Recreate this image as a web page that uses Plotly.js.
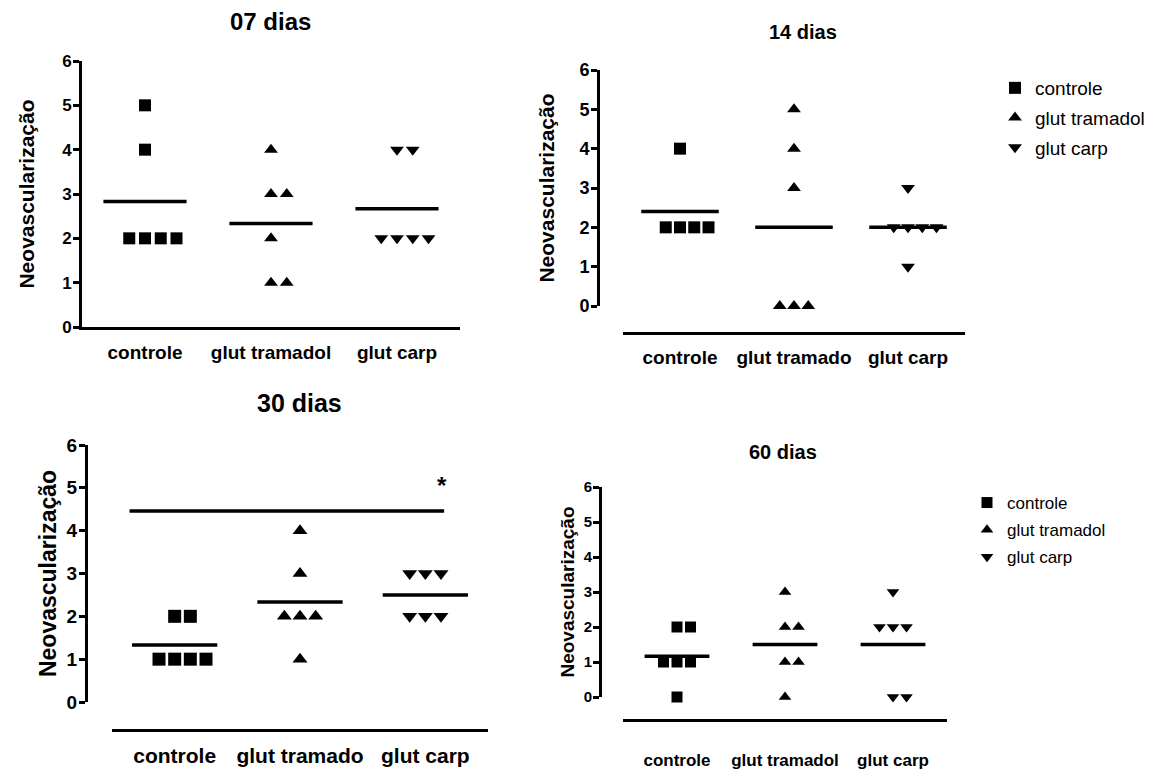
<!DOCTYPE html>
<html>
<head>
<meta charset="utf-8">
<script src="https://cdn.plot.ly/plotly-3.0.1.min.js"></script>
<style>html,body{margin:0;padding:0;background:#fff;}#chart{width:1157px;height:769px;}</style>
</head>
<body>
<div id="chart"></div>
<script>
// ---------------- data ----------------
const categories = ['controle', 'glut tramadol', 'glut carp'];
const ticksTruncated = ['controle', 'glut tramado', 'glut carp'];
const yTicks = [0, 1, 2, 3, 4, 5, 6];
const panelTitles = ['07 dias', '14 dias', '30 dias', '60 dias'];
const yTitle = 'Neovascularização';

const d07_controle = [5, 4, 2, 2, 2, 2];
const d07_tramadol = [4, 3, 3, 2, 1, 1];
const d07_carp     = [4, 4, 2, 2, 2, 2];

const d14_controle = [4, 2, 2, 2, 2];
const d14_tramadol = [5, 4, 3, 0, 0, 0];
const d14_carp     = [3, 2, 2, 2, 2, 1];

const d30_controle = [2, 2, 1, 1, 1, 1];
const d30_tramadol = [4, 3, 2, 2, 2, 1];
const d30_carp     = [3, 3, 3, 2, 2, 2];

const d60_controle = [2, 2, 1, 1, 1, 0];
const d60_tramadol = [3, 2, 2, 1, 1, 0];
const d60_carp     = [3, 2, 2, 2, 0, 0];

const sigLabel = '*';   // 30 dias: controle vs glut carp
const sigValue = 4.46;  // height of the comparison bar

// ---------------- helpers ----------------
const W = 1157, H = 769;
const px = v => v / W;
const py = v => 1 - v / H;
const FONT = 'Liberation Sans, Arial, Helvetica, sans-serif';
const symbols = ['square', 'triangle-up', 'triangle-down'];

function spread(values, center, slot) {
  // column-scatter layout: identical values are placed side by side
  const counts = {}, seen = {};
  values.forEach(v => counts[v] = (counts[v] || 0) + 1);
  return values.map(v => {
    const n = counts[v];
    const k = (seen[v] = (seen[v] === undefined ? 0 : seen[v] + 1));
    return center + (k - Math.floor((n - 1) / 2)) * slot;
  });
}
const mean = a => a.reduce((s, v) => s + v, 0) / a.length;

const panels = [
  {groups: [d07_controle, d07_tramadol, d07_carp], xa: 'x',  ya: 'y',  size: [12, 12, 12], half: 0.33, legend: null},
  {groups: [d14_controle, d14_tramadol, d14_carp], xa: 'x2', ya: 'y2', size: [12, 12, 12], half: 0.34, legend: 'legend'},
  {groups: [d30_controle, d30_tramadol, d30_carp], xa: 'x3', ya: 'y3', size: [13, 13, 13], half: 0.34, legend: null},
  {groups: [d60_controle, d60_tramadol, d60_carp], xa: 'x4', ya: 'y4', size: [11, 11, 11], half: 0.30, legend: 'legend2'}
];

const traces = [];
panels.forEach((p, pi) => {
  p.groups.forEach((vals, gi) => {
    traces.push({
      type: 'scatter', mode: 'markers',
      x: spread(vals, gi + 1, 0.125), y: vals,
      xaxis: p.xa, yaxis: p.ya,
      name: categories[gi],
      marker: {symbol: symbols[gi], size: p.size[gi], color: '#000'},
      cliponaxis: false,
      showlegend: !!p.legend,
      legend: p.legend || 'legend',
      legendgroup: 'g' + gi,
      hoverinfo: 'y'
    });
  });
  p.groups.forEach((vals, gi) => {
    const m = mean(vals);
    traces.push({
      type: 'scatter', mode: 'lines',
      x: [gi + 1 - p.half, gi + 1 + p.half], y: [m, m],
      xaxis: p.xa, yaxis: p.ya,
      line: {color: '#000', width: 3.5},
      cliponaxis: false, showlegend: false, hoverinfo: 'skip'
    });
  });
});
// significance bar (30 dias)
traces.push({
  type: 'scatter', mode: 'lines',
  x: [0.64, 3.15], y: [sigValue, sigValue],
  xaxis: 'x3', yaxis: 'y3',
  line: {color: '#000', width: 3.5},
  cliponaxis: false, showlegend: false, hoverinfo: 'skip'
});

function xAxis(domain, anchor, position, ticktext, fsize, standoff) {
  const a = {
    domain: domain, range: [0.5, 3.5], showline: true, linewidth: 3, linecolor: '#000',
    tickvals: [1, 2, 3], ticktext: ticktext, ticks: '', showgrid: false, zeroline: false,
    tickfont: {family: FONT, size: fsize, color: '#000', weight: 'bold'},
    ticklabelstandoff: standoff, fixedrange: true
  };
  if (anchor === 'free') { a.anchor = 'free'; a.position = position; } else { a.anchor = anchor; }
  return a;
}
function yAxis(domain, anchor, position, fsize, tsize, standoff) {
  const a = {
    domain: domain, range: [0, 6], showline: true, linewidth: 3, linecolor: '#000',
    tickvals: yTicks, ticks: 'outside', ticklen: 6, tickwidth: 3, tickcolor: '#000',
    showgrid: false, zeroline: false, fixedrange: true, ticklabelstandoff: -2,
    tickfont: {family: FONT, size: fsize, color: '#000', weight: 'bold'},
    title: {text: yTitle, font: {family: FONT, size: tsize, color: '#000', weight: 'bold'}, standoff: standoff}
  };
  if (anchor === 'free') { a.anchor = 'free'; a.position = position; } else { a.anchor = anchor; }
  return a;
}

const titleAnn = (text, x, y, size) => ({
  text: text, xref: 'paper', yref: 'paper', x: px(x), y: py(y),
  xanchor: 'center', yanchor: 'middle', showarrow: false,
  font: {family: FONT, size: size, color: '#000', weight: 'bold'}
});

const layout = {
  width: W, height: H,
  margin: {l: 0, r: 0, t: 0, b: 0},
  paper_bgcolor: '#fff', plot_bgcolor: 'rgba(0,0,0,0)',
  font: {family: FONT, color: '#000'},
  showlegend: true,
  xaxis:  xAxis([px(82), px(460)], 'y', null, categories, 19, 6),
  yaxis:  yAxis([py(327), py(61)], 'x', null, 17, 21, 22),
  xaxis2: xAxis([px(623), px(965)], 'free', py(333), ticksTruncated, 19, 6),
  yaxis2: yAxis([py(306), py(70)], 'free', px(598), 18, 21, 18),
  xaxis3: xAxis([px(112), px(488)], 'free', py(730), ticksTruncated, 21, 6),
  yaxis3: yAxis([py(702), py(445)], 'free', px(86), 19, 23, 2),
  xaxis4: xAxis([px(623), px(947)], 'free', py(720), categories, 17, 24),
  yaxis4: yAxis([py(697), py(487)], 'free', px(600), 15, 19, 3),
  legend: {
    x: px(995), y: py(69), xanchor: 'left', yanchor: 'top',
    font: {family: FONT, size: 19, color: '#000'}, tracegroupgap: 2,
    bgcolor: 'rgba(0,0,0,0)', borderwidth: 0
  },
  legend2: {
    x: px(967), y: py(485), xanchor: 'left', yanchor: 'top',
    font: {family: FONT, size: 17, color: '#000'}, tracegroupgap: 2,
    bgcolor: 'rgba(0,0,0,0)', borderwidth: 0
  },
  annotations: [
    titleAnn(panelTitles[0], 270, 22, 24),
    titleAnn(panelTitles[1], 803, 32, 20),
    titleAnn(panelTitles[2], 299, 403, 25),
    titleAnn(panelTitles[3], 783, 452, 20),
    {text: sigLabel, xref: 'x3', yref: 'y3', x: 3.13, y: 5.05, showarrow: false,
     xanchor: 'center', yanchor: 'middle',
     font: {family: FONT, size: 24, color: '#000', weight: 'bold'}}
  ]
};

Plotly.newPlot('chart', traces, layout, {displayModeBar: false, staticPlot: true});
</script>
</body>
</html>
